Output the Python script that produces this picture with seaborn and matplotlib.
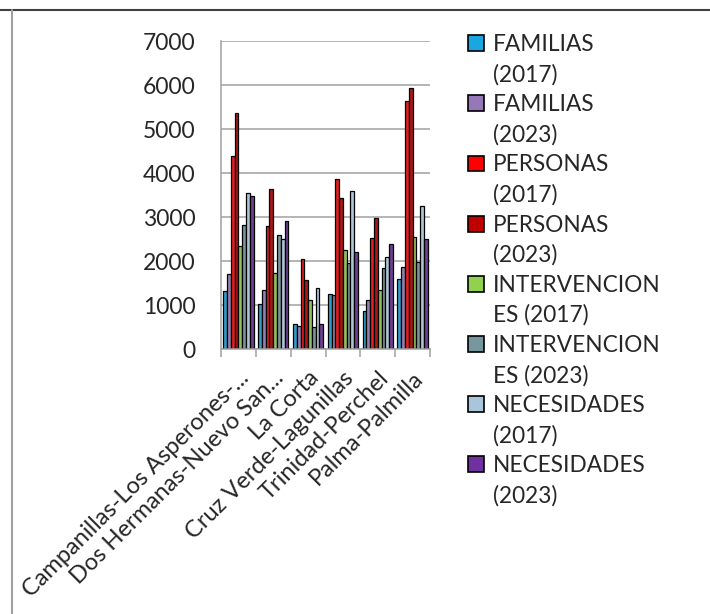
import pandas as pd
import matplotlib
matplotlib.use("Agg")
import matplotlib.pyplot as plt
from matplotlib.patches import Patch
from matplotlib.lines import Line2D
import seaborn as sns

# --- data ---
barrios = ["Campanillas-Los Asperones-...", "Dos Hermanas-Nuevo San...", "La Corta",
           "Cruz Verde-Lagunillas", "Trinidad-Perchel", "Palma-Palmilla"]
series = ["FAMILIAS (2017)", "FAMILIAS (2023)", "PERSONAS (2017)", "PERSONAS (2023)",
          "INTERVENCIONES (2017)", "INTERVENCIONES (2023)", "NECESIDADES (2017)", "NECESIDADES (2023)"]
familias_2017 = [1330, 1030, 580, 1265, 865, 1600]
familias_2023 = [1705, 1355, 540, 1225, 1115, 1865]
personas_2017 = [4380, 2790, 2040, 3865, 2525, 5635]
personas_2023 = [5365, 3630, 1575, 3425, 2975, 5940]
intervenciones_2017 = [2350, 1735, 1130, 2250, 1350, 2545]
intervenciones_2023 = [2825, 2605, 515, 1970, 1840, 1990]
necesidades_2017 = [3545, 2515, 1400, 3605, 2090, 3250]
necesidades_2023 = [3490, 2915, 575, 2210, 2380, 2515]
legend_lines = [["FAMILIAS", "(2017)"], ["FAMILIAS", "(2023)"], ["PERSONAS", "(2017)"],
                ["PERSONAS", "(2023)"], ["INTERVENCION", "ES (2017)"], ["INTERVENCION", "ES (2023)"],
                ["NECESIDADES", "(2017)"], ["NECESIDADES", "(2023)"]]
colors = ["#1AA6E0", "#9677B8", "#FF0000", "#C00000", "#92D050", "#76979E", "#A9C5D9", "#7030A0"]

values = [familias_2017, familias_2023, personas_2017, personas_2023,
          intervenciones_2017, intervenciones_2023, necesidades_2017, necesidades_2023]
df = pd.DataFrame([(b, s, v) for s, vals in zip(series, values) for b, v in zip(barrios, vals)],
                  columns=["Barrio", "Serie", "Valor"])

sns.set_style("white")
plt.rcParams["font.family"] = ["Lato", "DejaVu Sans"]

fig = plt.figure(figsize=(7.1, 6.14), dpi=100)
ax = fig.add_axes([221 / 710, 1 - 349.3 / 614, 209 / 710, 308.3 / 614])

sns.barplot(data=df, x="Barrio", y="Valor", hue="Serie", palette=colors, width=0.87,
            edgecolor="black", linewidth=0.9, legend=False, ax=ax)

ax.set_ylim(0, 7000)
ax.set_xlim(-0.5, len(barrios) - 0.5)
ax.set_yticks(range(0, 7001, 1000))
ax.set_xlabel("")
ax.set_ylabel("")
ax.yaxis.grid(True, color="#A0A0A0", linewidth=1.1)
ax.set_axisbelow(True)
for side in ["top", "right"]:
    ax.spines[side].set_visible(False)
for side in ["left", "bottom"]:
    ax.spines[side].set_color("#A0A0A0")
    ax.spines[side].set_linewidth(1.1)

ax.tick_params(axis="y", length=6.5, width=1.1, color="#A0A0A0", pad=12, labelsize=16.5)
ax.set_xticks([i - 0.5 for i in range(len(barrios) + 1)], minor=True)
ax.tick_params(axis="x", which="minor", length=5.5, width=1.1, color="#A0A0A0", bottom=True)
ax.tick_params(axis="x", which="major", length=0, pad=13, labelsize=17)
for lab in ax.get_xticklabels():
    lab.set_rotation(45)
    lab.set_ha("right")
    lab.set_va("top")
    lab.set_rotation_mode("anchor")

# legend: one box per series, label wrapped onto two rows
handles, labels = [], []
for col, lines in zip(colors, legend_lines):
    handles.append(Patch(facecolor=col, edgecolor="black", linewidth=1.2))
    labels.append(lines[0])
    handles.append(Patch(facecolor="none", edgecolor="none"))
    labels.append(lines[1])
fig.legend(handles, labels, loc="upper left", bbox_to_anchor=(468 / 710, 1 - 34 / 614),
           frameon=False, fontsize=16.3, handlelength=0.7, handleheight=0.7,
           handletextpad=0.4, labelspacing=0.39, borderpad=0, borderaxespad=0)

# outer frame lines of the cell
fig.add_artist(Line2D([0, 1], [1 - 10 / 614, 1 - 10 / 614], color="#404040", linewidth=1.5))
fig.add_artist(Line2D([12 / 710, 12 / 710], [0, 1 - 10 / 614], color="#A0A0A0", linewidth=1.5))

fig.savefig("out.png", dpi=100, facecolor="white")
